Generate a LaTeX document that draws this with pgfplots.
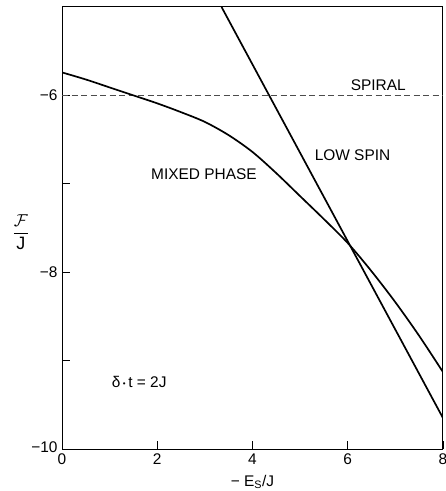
\documentclass[border=0pt]{standalone}
\usepackage{pgfplots}
\pgfplotsset{compat=1.18}
\usepackage{fontspec}
\setmainfont{Liberation Sans}
\begin{document}
\begin{tikzpicture}
\useasboundingbox (-62bp,-42bp) rectangle (384bp,449bp);
\begin{axis}[
  at={(0,0)}, anchor=south west,
  scale only axis, width=381bp, height=442bp,
  xmin=0, xmax=8, ymin=-10, ymax=-5,
  axis line style={line width=1pt},
  tick style={black, line width=0.7pt},
  tick align=inside,
  major tick length=8bp, minor tick length=8bp,
  xtick pos=bottom, ytick pos=left,
  xtick={0,2,4,6,8},
  xticklabels={0,2,4,6,8},
  ytick={-10,-8,-6},
  yticklabels={\raisebox{4bp}{−10},−8,−6},
  minor ytick={-9,-7},
  ticklabel style={font=\fontsize{15.5}{17}\selectfont},
  xticklabel style={yshift=-1bp},
  yticklabel style={xshift=-1bp},
  xlabel={− E\textsubscript{S}/J},
  xlabel style={font=\fontsize{15.5}{17}\selectfont, at={(axis description cs:0.5,-0.075)}, anchor=center},
  clip mode=individual,
]
% spiral
\addplot[color=black!70, line width=0.8pt, dash pattern=on 6bp off 3.5bp] coordinates {(0,-6) (8,-6)};
% low spin
\addplot[black, line width=1.7pt] coordinates {(3.35,-5) (8,-9.65)};
% mixed phase
\addplot[black, line width=1.7pt, smooth] coordinates {
(0,-5.74) (0.5,-5.82) (1,-5.91) (1.5,-6.00) (2,-6.09) (2.5,-6.19) (3,-6.30) (3.5,-6.45) (4,-6.64) (4.5,-6.88) (5,-7.14) (5.5,-7.40) (6,-7.67) (6.5,-7.99) (7,-8.34) (7.5,-8.72) (8,-9.13)};
\node[font=\fontsize{15.5}{17}\selectfont] at (axis cs:6.64,-5.89) {SPIRAL};
\node[font=\fontsize{15.5}{17}\selectfont] at (axis cs:6.1,-6.68) {LOW SPIN};
\node[font=\fontsize{15.5}{17}\selectfont] at (axis cs:2.98,-6.89) {MIXED PHASE};
\node[font=\fontsize{15.5}{17}\selectfont] at (axis cs:1.62,-9.24) {δ\,\raisebox{0.1ex}{\footnotesize •}\,t = 2J};
\node[font=\fontsize{18}{20}\selectfont] at (axis description cs:-0.108,0.491) {$\displaystyle\frac{\mathcal{F}}{\mbox{J}}$};
\end{axis}
\end{tikzpicture}
\end{document}
